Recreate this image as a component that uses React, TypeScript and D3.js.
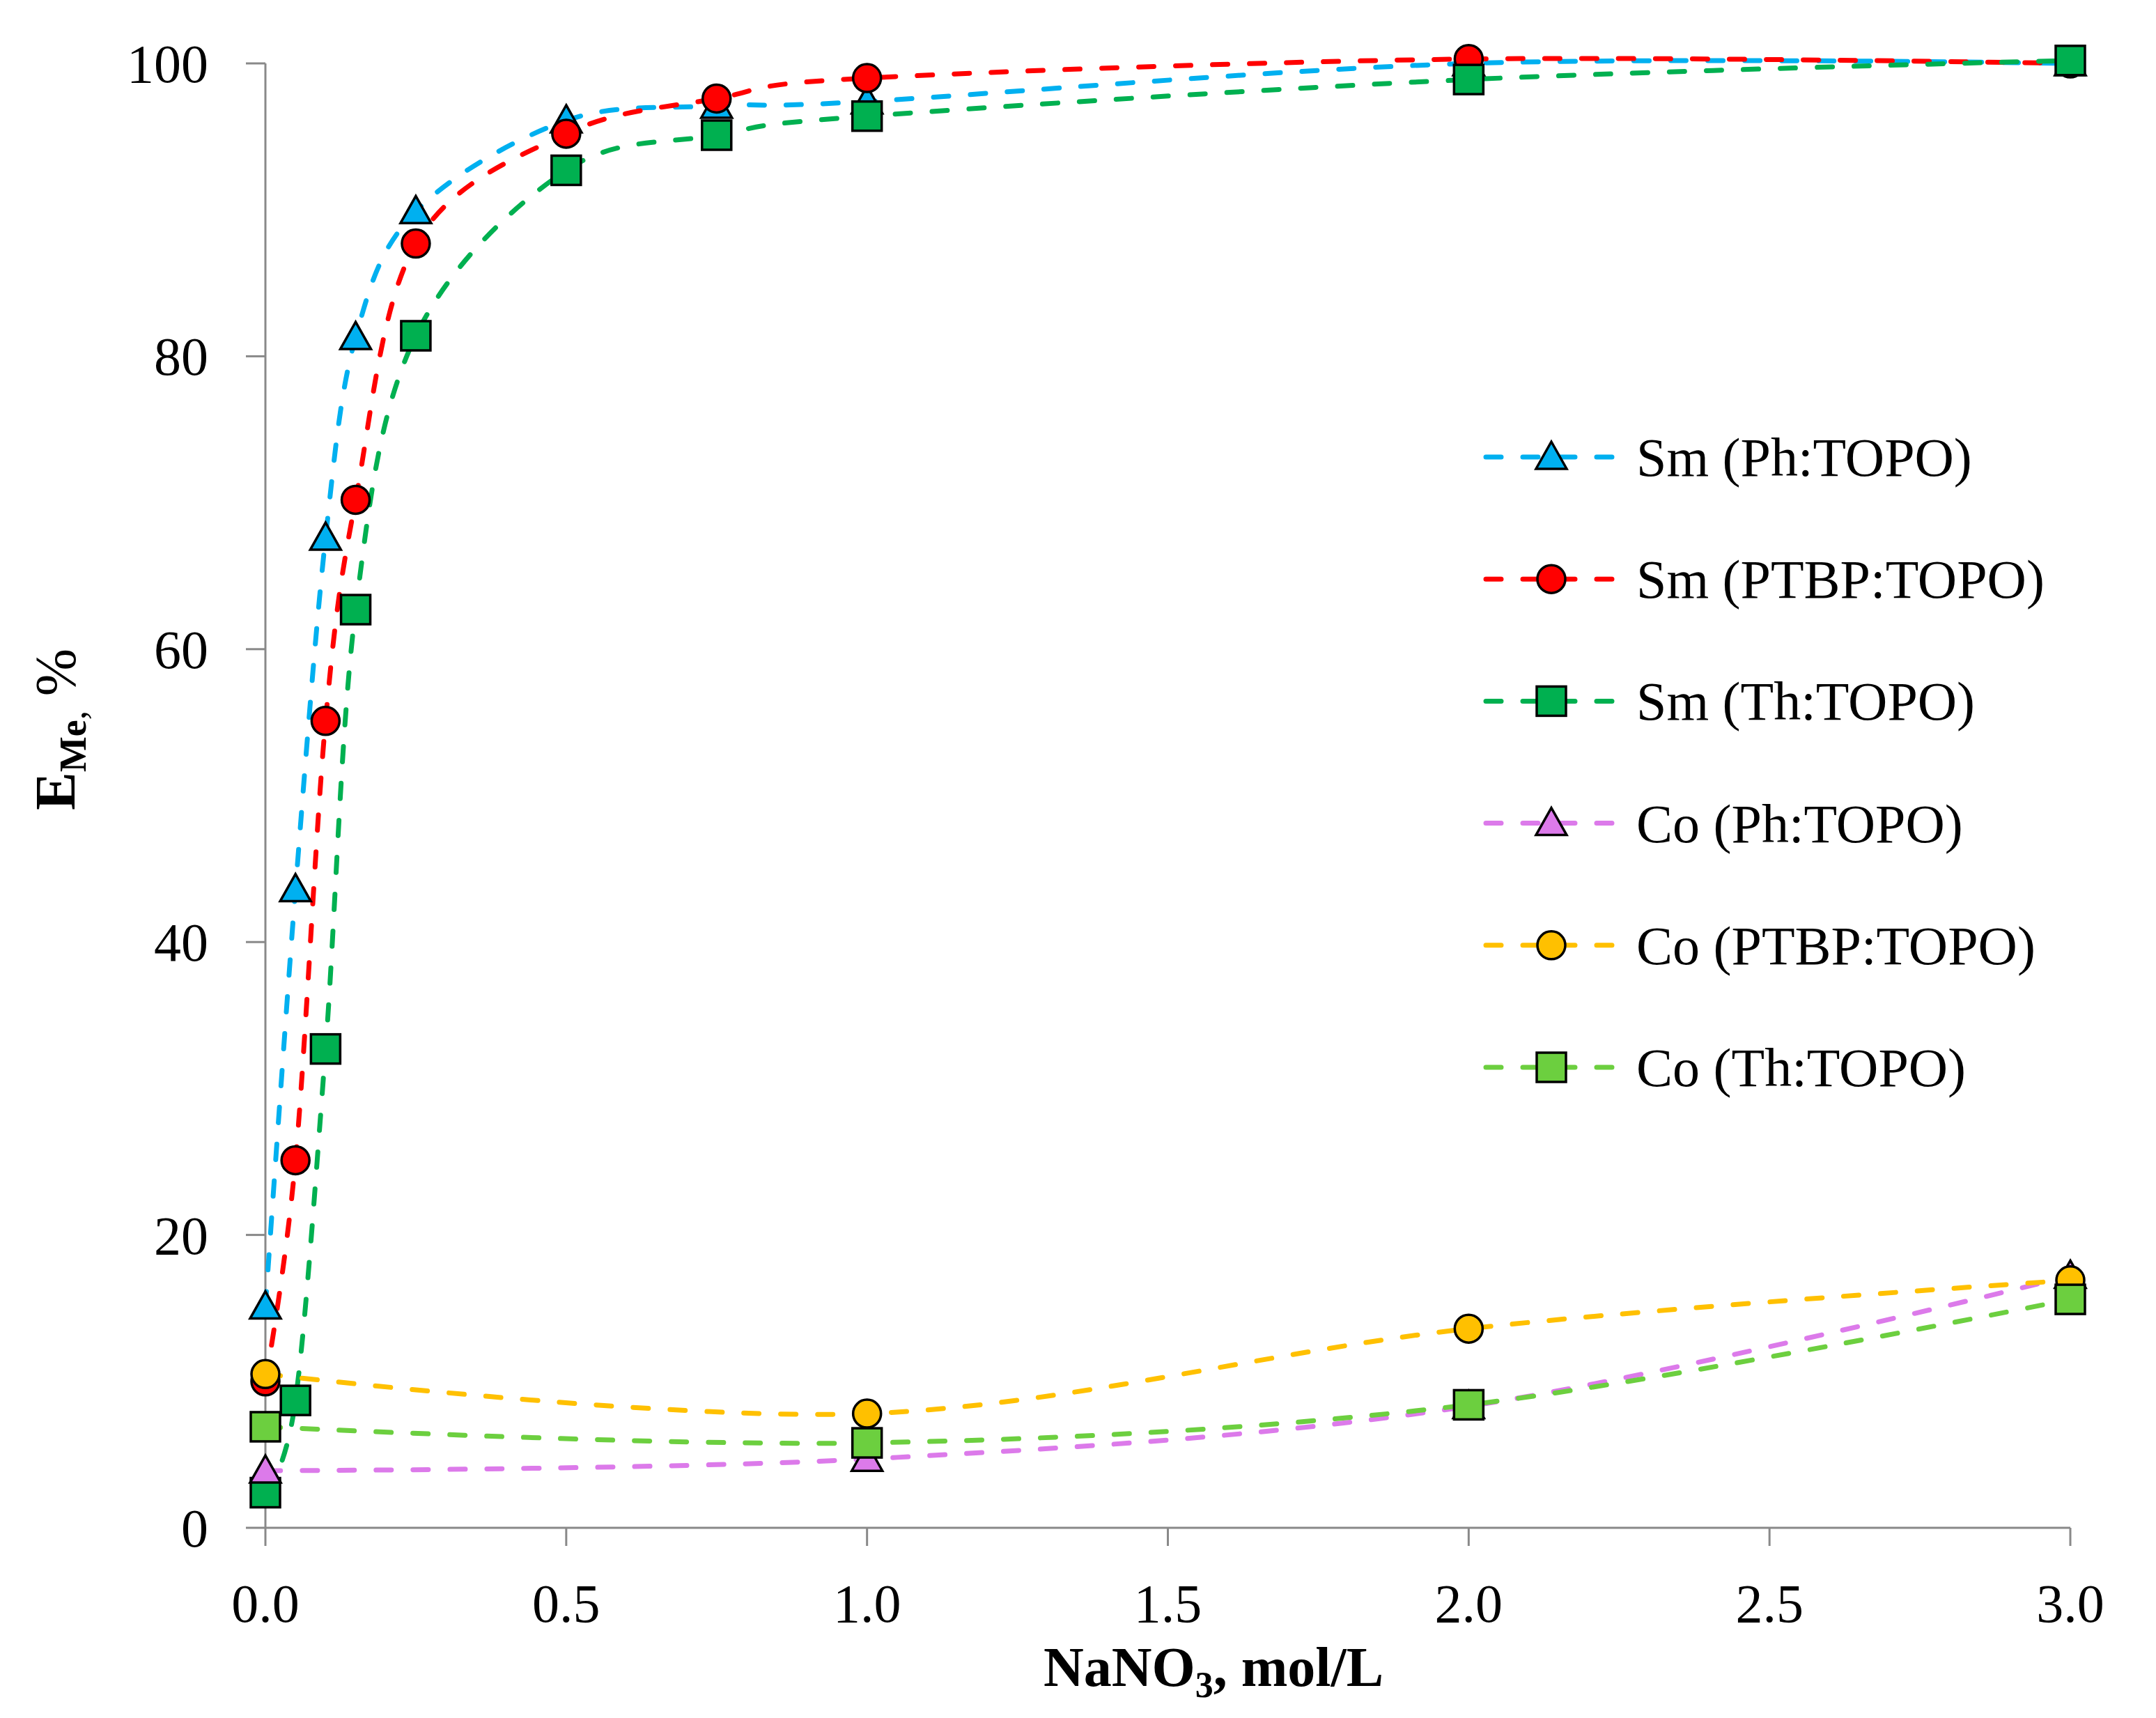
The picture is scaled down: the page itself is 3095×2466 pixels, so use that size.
import * as d3 from "d3";

// NaNO3 concentration, mol/L
const smX = [0, 0.05, 0.1, 0.15, 0.25, 0.5, 0.75, 1.0, 2.0, 3.0];
const coX = [0, 1.0, 2.0, 3.0];

// extraction, %
const smPh = [15.1, 43.6, 67.6, 81.3, 89.9, 96.1, 97.1, 97.4, 100, 100];
const smPtbp = [10.0, 25.1, 55.1, 70.2, 87.7, 95.2, 97.6, 99.0, 100.3, 100];
const smTh = [2.4, 8.7, 32.7, 62.7, 81.4, 92.7, 95.1, 96.4, 98.9, 100.2];
const coPh = [3.9, 4.7, 8.3, 17.2];
const coPtbp = [10.5, 7.8, 13.6, 16.9];
const coTh = [6.9, 5.8, 8.4, 15.6];

const seriesNames = [
  "Sm (Ph:TOPO)",
  "Sm (PTBP:TOPO)",
  "Sm (Th:TOPO)",
  "Co (Ph:TOPO)",
  "Co (PTBP:TOPO)",
  "Co (Th:TOPO)",
];

const xTicks = [0, 0.5, 1, 1.5, 2, 2.5, 3];
const yTicks = [0, 20, 40, 60, 80, 100];

type Shape = "triangle" | "circle" | "square";

const series: Array<{ name: string; xs: number[]; ys: number[]; color: string; shape: Shape }> = [
  { name: seriesNames[0], xs: smX, ys: smPh, color: "#00B0F0", shape: "triangle" },
  { name: seriesNames[1], xs: smX, ys: smPtbp, color: "#FF0000", shape: "circle" },
  { name: seriesNames[2], xs: smX, ys: smTh, color: "#00B050", shape: "square" },
  { name: seriesNames[3], xs: coX, ys: coPh, color: "#DC7AEA", shape: "triangle" },
  { name: seriesNames[4], xs: coX, ys: coPtbp, color: "#FFC000", shape: "circle" },
  { name: seriesNames[5], xs: coX, ys: coTh, color: "#6CCF3F", shape: "square" },
];

const W = 3095;
const H = 2466;
const FONT = "'Liberation Serif', 'Times New Roman', serif";
const AXIS = "#898989";

function Marker({ shape, cx, cy, fill }: { shape: Shape; cx: number; cy: number; fill: string }) {
  const s = 21;
  if (shape === "circle")
    return <circle cx={cx} cy={cy} r={20} fill={fill} stroke="#000" strokeWidth={3.5} />;
  if (shape === "square")
    return (
      <rect x={cx - s} y={cy - s} width={2 * s} height={2 * s} fill={fill} stroke="#000" strokeWidth={3.5} />
    );
  const pts = [
    [cx, cy - 22],
    [cx + 22, cy + 17],
    [cx - 22, cy + 17],
  ]
    .map((p) => p.join(","))
    .join(" ");
  return <polygon points={pts} fill={fill} stroke="#000" strokeWidth={3.5} strokeLinejoin="miter" />;
}

export default function App() {
  const x = d3.scaleLinear().domain([0, 3]).range([381, 2972]);
  const y = d3.scaleLinear().domain([0, 100]).range([2193, 91]);

  const line = d3
    .line<[number, number]>()
    .x((d) => x(d[0]))
    .y((d) => y(d[1]))
    .curve(d3.curveCatmullRom.alpha(0));

  const legendY = d3.scaleLinear().domain([0, 5]).range([656, 1532]);

  return (
    <svg
      width={W}
      height={H}
      viewBox={`0 0 ${W} ${H}`}
      style={{ position: "absolute", left: 0, top: 0, background: "#fff" }}
      fontFamily={FONT}
    >
      <rect width={W} height={H} fill="#fff" />

      {/* axes */}
      <line x1={x(0)} x2={x(0)} y1={y(0)} y2={y(100)} stroke={AXIS} strokeWidth={3} />
      <line x1={x(0)} x2={x(3)} y1={y(0)} y2={y(0)} stroke={AXIS} strokeWidth={3} />
      {yTicks.map((t) => (
        <g key={`y${t}`}>
          <line x1={x(0) - 28} x2={x(0)} y1={y(t)} y2={y(t)} stroke={AXIS} strokeWidth={3} />
          <text x={x(0) - 82} y={y(t) + 27} textAnchor="end" fontSize={78} fill="#000">
            {t}
          </text>
        </g>
      ))}
      {xTicks.map((t) => (
        <g key={`x${t}`}>
          <line x1={x(t)} x2={x(t)} y1={y(0)} y2={y(0) + 26} stroke={AXIS} strokeWidth={3} />
          <text x={x(t)} y={y(0) + 135} textAnchor="middle" fontSize={78} fill="#000">
            {t.toFixed(1)}
          </text>
        </g>
      ))}

      {/* axis titles */}
      <text x={1742} y={2420} textAnchor="middle" fontSize={80} fontWeight="bold" fill="#000">
        NaNO
        <tspan fontSize={52} dy={16}>3</tspan>
        <tspan dy={-16}>, mol/L</tspan>
      </text>
      <text transform={`translate(107,1047) rotate(-90)`} textAnchor="middle" fontSize={82} fill="#000">
        <tspan fontWeight="bold">E</tspan>
        <tspan fontWeight="bold" fontSize={54} dy={16}>Me</tspan>
        <tspan fontSize={54}>,</tspan>
        <tspan dy={-16}> %</tspan>
      </text>

      {/* lines */}
      {series.map((s) => (
        <path
          key={`l${s.name}`}
          d={line(s.xs.map((v, i) => [v, s.ys[i]] as [number, number])) ?? ""}
          fill="none"
          stroke={s.color}
          strokeWidth={7}
          strokeDasharray="22,31"
          strokeLinecap="round"
        />
      ))}

      {/* markers */}
      {series.map((s) => (
        <g key={`m${s.name}`}>
          {s.xs.map((v, i) => (
            <Marker key={i} shape={s.shape} cx={x(v)} cy={y(s.ys[i])} fill={s.color} />
          ))}
        </g>
      ))}

      {/* legend */}
      {series.map((s, i) => {
        const ly = legendY(i);
        return (
          <g key={`lg${s.name}`}>
            <line
              x1={2133}
              x2={2319}
              y1={ly}
              y2={ly}
              stroke={s.color}
              strokeWidth={7}
              strokeDasharray="22,31"
              strokeLinecap="round"
            />
            <Marker shape={s.shape} cx={2227} cy={ly} fill={s.color} />
            <text x={2349} y={ly + 27} fontSize={78} fill="#000">
              {s.name}
            </text>
          </g>
        );
      })}
    </svg>
  );
}
